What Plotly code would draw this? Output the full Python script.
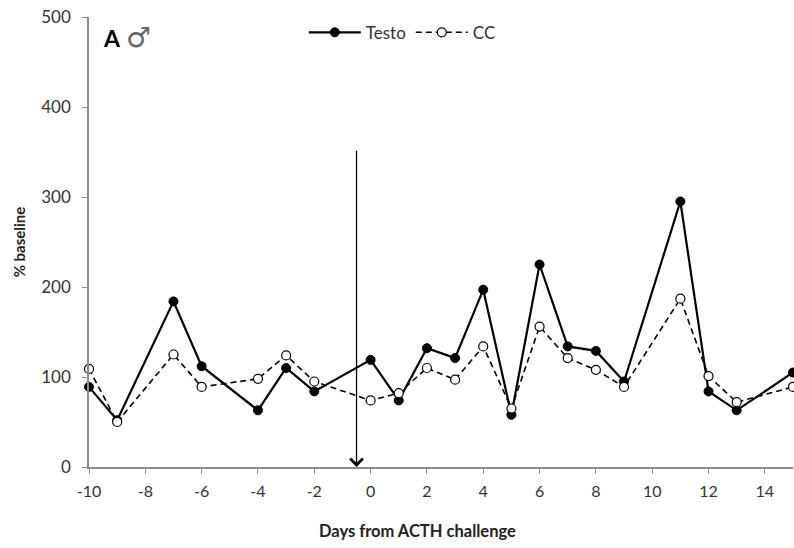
import plotly.graph_objects as go

days = [-10, -9, -7, -6, -4, -3, -2, 0, 1, 2, 3, 4, 5, 6, 7, 8, 9, 11, 12, 13, 15]
testo = [89, 52, 184, 112, 63, 110, 84, 119, 74, 132, 121, 197, 58, 225, 134, 129, 95, 295, 84, 63, 105]
cc = [109, 50, 125, 89, 98, 124, 95, 74, 82, 110, 97, 134, 65, 156, 121, 108, 89, 187, 101, 72, 89]

x_ticks = list(range(-10, 16, 2))
y_ticks = [0, 100, 200, 300, 400, 500]
challenge_day = -0.5
arrow_top = 353

FONT = "Lato, Carlito, 'Open Sans', sans-serif"
AXIS_GREY = "#8c8c8c"

fig = go.Figure()
fig.add_trace(go.Scatter(
    x=days, y=testo, name="Testo", mode="lines+markers",
    line=dict(color="black", width=2.2),
    marker=dict(symbol="circle", size=9, color="black", line=dict(color="black", width=1)),
    cliponaxis=False,
))
fig.add_trace(go.Scatter(
    x=days, y=cc, name="CC", mode="lines+markers",
    line=dict(color="black", width=1.6, dash="6px,4px"),
    marker=dict(symbol="circle", size=9, color="white", line=dict(color="black", width=1.2)),
    cliponaxis=False,
))

fig.add_annotation(
    x=challenge_day, y=0, ax=challenge_day, ay=arrow_top,
    xref="x", yref="y", axref="x", ayref="y",
    showarrow=True, arrowhead=4, arrowsize=1.9, arrowwidth=1.3, arrowcolor="black",
    text="", standoff=0,
)

fig.add_annotation(
    x=0.017, y=0.995, xref="paper", yref="paper", xanchor="left", yanchor="top",
    text="<b>A</b> <span style='color:#666;font-family:DejaVu Sans;font-size:28px;'>\u2642</span>",
    showarrow=False, font=dict(family=FONT, size=23, color="black"),
)

fig.add_annotation(
    x=0.466, y=-0.143, xref="paper", yref="paper", xanchor="center", yanchor="middle",
    showarrow=False,
    text="<b>Days from ACTH challenge</b>", font=dict(family=FONT, size=16.5, color="#222"),
)

fig.update_layout(
    width=794, height=548,
    margin=dict(l=89, r=1, t=17, b=81),
    paper_bgcolor="white", plot_bgcolor="white",
    font=dict(family=FONT, size=15, color="#333"),
    showlegend=True,
    legend=dict(orientation="h", x=0.445, y=1.005, xanchor="center", yanchor="top",
                font=dict(family=FONT, size=17, color="#333"), itemwidth=52,
                bgcolor="rgba(0,0,0,0)", tracegroupgap=0),
)

fig.update_xaxes(
    range=[-10, 15], tickvals=x_ticks, ticktext=[str(v) for v in x_ticks],
    showgrid=False, zeroline=False, showline=True, linecolor=AXIS_GREY, linewidth=1.5,
    ticks="outside", ticklen=5, tickcolor=AXIS_GREY, tickwidth=1.2,
    tickfont=dict(family=FONT, size=16, color="#333"), ticklabelstandoff=4,
)
fig.update_yaxes(
    range=[0, 500], tickvals=y_ticks,
    showgrid=False, zeroline=False, showline=True, linecolor=AXIS_GREY, linewidth=1.5,
    ticks="outside", ticklen=5, tickcolor=AXIS_GREY, tickwidth=1.2,
    tickfont=dict(family=FONT, size=17, color="#333"), ticklabelstandoff=8,
    title=dict(text="<b>% baseline</b>", font=dict(family=FONT, size=15, color="#222"), standoff=12),
)

fig.write_html("out.html")
